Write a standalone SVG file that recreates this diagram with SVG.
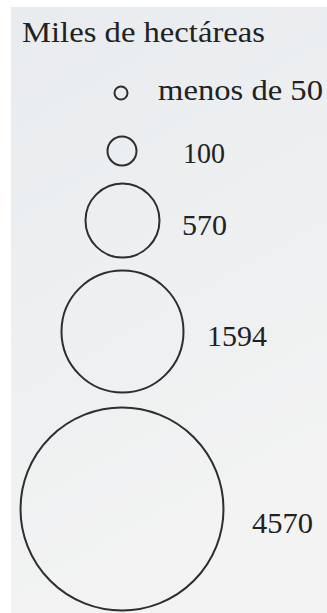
<svg xmlns="http://www.w3.org/2000/svg" width="327" height="613" viewBox="0 0 327 613">
<defs>
<linearGradient id="bg" x1="0" y1="0" x2="0.3" y2="1">
<stop offset="0" stop-color="#e9ecef"/>
<stop offset="0.6" stop-color="#eef0f1"/>
<stop offset="1" stop-color="#f3f3f3"/>
</linearGradient>
</defs>
<style>
.c{fill:none;stroke:#2e2e2e;stroke-width:2}
.t{font-family:"Liberation Serif","Times New Roman",serif;fill:#222222;font-size:30px}
</style>
<rect x="0" y="0" width="327" height="613" fill="#ffffff"/>
<rect x="11" y="7" width="316" height="606" fill="url(#bg)"/>
<text class="t" x="22" y="42" textLength="243" lengthAdjust="spacingAndGlyphs">Miles de hectáreas</text>
<g id="n50">
<circle class="c" cx="121" cy="93" r="6.5"/>
<text class="t" x="158" y="100" textLength="165" lengthAdjust="spacingAndGlyphs">menos de 50</text>
</g>
<g id="n100">
<circle class="c" cx="122" cy="151" r="14.5"/>
<text class="t" x="183" y="163" textLength="42" lengthAdjust="spacingAndGlyphs">100</text>
</g>
<g id="n570">
<circle class="c" cx="122.5" cy="220.5" r="37"/>
<text class="t" x="182" y="235" textLength="45" lengthAdjust="spacingAndGlyphs">570</text>
</g>
<g id="n1594">
<circle class="c" cx="122.5" cy="331.5" r="61"/>
<text class="t" x="207" y="346" textLength="60" lengthAdjust="spacingAndGlyphs">1594</text>
</g>
<g id="n4570">
<circle class="c" cx="122" cy="509" r="101.5"/>
<text class="t" x="252" y="533" textLength="61" lengthAdjust="spacingAndGlyphs">4570</text>
</g>
<g id="connectors"/>
</svg>
